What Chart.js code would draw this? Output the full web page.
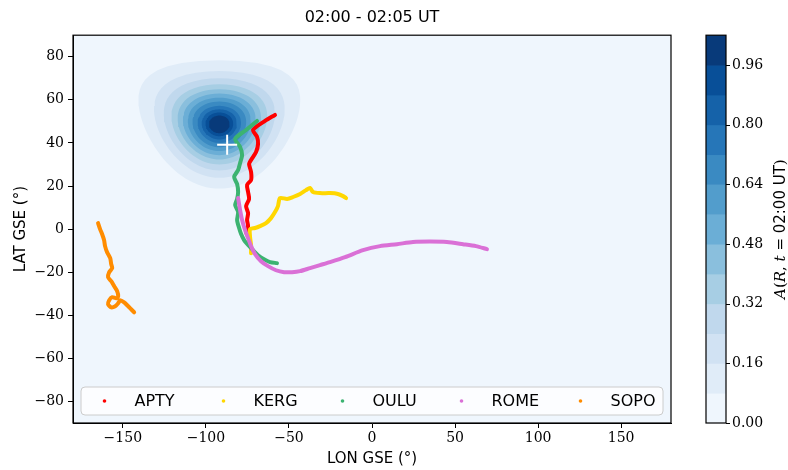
<!DOCTYPE html>
<html lang="en">
<head>
<meta charset="UTF-8">
<title>02:00 - 02:05 UT</title>
<script src="https://cdn.jsdelivr.net/npm/chart.js@4/dist/chart.umd.min.js"></script>
<style>
  html, body { margin: 0; padding: 0; background: #fff; }
</style>
</head>
<body>
<canvas id="chart-canvas" width="788" height="470"></canvas>
<script>
// station tracks (lon / lat GSE, degrees)
const stations = ['APTY', 'KERG', 'OULU', 'ROME', 'SOPO'];

const aptyLon = [-58.4, -64.4, -71.6, -69.2, -68.6, -69.8, -72.8, -74.0, -72.8, -72.8, -75.2, -74.6, -74.0, -75.8, -74.6, -75.2, -74.6, -75.8, -74.0, -73.4];
const aptyLat = [53.0, 50.2, 46.0, 42.8, 39.5, 35.8, 32.1, 30.2, 26.5, 22.8, 20.5, 17.2, 14.0, 10.7, 7.4, 4.2, 1.4, -1.4, -4.2, -7.9];

const kergLon = [-72.8, -72.8, -73.4, -73.4, -70.4, -67.4, -63.8, -60.8, -58.4, -56.6, -55.4, -51.1, -47.5, -43.3, -39.7, -37.3, -35.5, -31.3, -25.3, -20.5, -17.4, -15.6];
const kergLat = [-11.2, -7.4, -3.7, 0.0, 0.5, 1.4, 2.8, 5.1, 7.9, 10.7, 14.4, 14.0, 14.9, 16.3, 18.1, 19.1, 17.2, 16.7, 16.7, 16.3, 15.3, 14.4];

const ouluLon = [-69.2, -75.8, -82.4, -79.4, -78.2, -79.4, -80.6, -83.0, -81.2, -80.6, -81.2, -82.4, -80.6, -81.2, -80.0, -78.8, -77.0, -74.6, -71.6, -68.6, -65.0, -61.4, -57.2];
const ouluLat = [50.2, 46.0, 41.9, 38.1, 34.4, 30.7, 27.4, 24.2, 20.9, 17.2, 14.0, 11.2, 7.9, 4.2, 0.5, -2.3, -5.1, -7.4, -9.8, -12.1, -14.0, -15.3, -15.8];

const romeLon = [-80.6, -79.4, -78.2, -76.4, -74.6, -72.8, -70.4, -66.8, -62.6, -57.8, -52.9, -48.1, -43.3, -37.3, -31.3, -25.3, -16.2, -5.4, 4.8, 15.0, 24.7, 34.9, 45.1, 54.8, 62.6, 69.2];
const romeLat = [14.4, 8.8, 4.2, -0.5, -4.2, -7.9, -11.6, -14.9, -17.2, -19.1, -20.0, -20.0, -19.5, -18.1, -16.7, -15.3, -13.0, -9.8, -7.9, -7.0, -6.0, -5.8, -6.0, -7.0, -7.9, -9.3];

const sopoLon = [-164.9, -163.7, -162.5, -161.3, -160.7, -159.5, -157.6, -157.0, -156.4, -158.2, -158.9, -157.0, -155.2, -153.4, -152.8, -154.0, -156.4, -158.2, -158.9, -157.0, -154.6, -152.8, -151.6, -149.2, -146.8, -145.0, -143.2];
const sopoLat = [2.8, 0.0, -2.3, -5.1, -7.9, -10.7, -13.5, -16.3, -18.1, -20.0, -22.3, -24.2, -26.5, -28.8, -31.2, -32.1, -31.6, -33.0, -34.9, -36.3, -35.8, -34.4, -33.0, -34.0, -35.8, -37.2, -38.6];

// anisotropy map A(R, t): peak direction and angular radius (deg) of each contour level
const peak = [-91.9, 48.6];
const markerPos = [-87.2, 39.1];
const levels = [0, 0.08, 0.16, 0.24, 0.32, 0.40, 0.48, 0.56, 0.64, 0.72, 0.80, 0.88, 0.96, 1.04];
const levelRadius = [29.8, 24.8, 21.4, 18.6, 16.3, 14.3, 12.4, 10.6, 8.6, 7.0, 5.5, 4.1];

const xTicks = [-150, -100, -50, 0, 50, 100, 150];
const yTicks = [-80, -60, -40, -20, 0, 20, 40, 60, 80];
const cbTicks = [0, 0.16, 0.32, 0.48, 0.64, 0.80, 0.96];

const bandColors = ['#eff6fd', '#e0ecf8', '#d1e2f3', '#c0d8ed', '#a7cee4', '#8abfdd', '#6baed6', '#529dcc', '#3a8ac2', '#2676b8', '#1562a9', '#084f98', '#083a7a'];
const trackColors = ['#ff0000', '#ffd700', '#3cb371', '#da70d6', '#ff8c00'];

const tracks = [[aptyLon, aptyLat], [kergLon, kergLat], [ouluLon, ouluLat], [romeLon, romeLat], [sopoLon, sopoLat]];
const toPoints = (lon, lat) => lon.map((x, i) => ({ x: x, y: lat[i] }));
const fmt = v => (v < 0 ? '\u2212' + Math.abs(v) : String(v));

// contour line = small circle on the sky of angular radius r around the peak
const rad = Math.PI / 180;
function skyCircle(r) {
  const lam0 = peak[0] * rad, phi0 = peak[1] * rad, d = r * rad;
  const pts = [];
  for (let b = 0; b <= 360; b += 5) {
    const th = b * rad;
    const phi = Math.asin(Math.sin(phi0) * Math.cos(d) + Math.cos(phi0) * Math.sin(d) * Math.cos(th));
    const lam = lam0 + Math.atan2(Math.sin(th) * Math.sin(d) * Math.cos(phi0),
                                  Math.cos(d) - Math.sin(phi0) * Math.sin(phi));
    pts.push({ x: lam / rad, y: phi / rad });
  }
  return pts;
}

const datasets = [];
datasets.push({
  label: 'max', data: [{ x: markerPos[0], y: markerPos[1] }],
  pointStyle: 'cross', pointRadius: 10, borderColor: '#ffffff', borderWidth: 2, order: 0
});
stations.forEach((name, i) => {
  datasets.push({
    label: name, data: toPoints(tracks[i][0], tracks[i][1]),
    showLine: true, fill: false, borderColor: trackColors[i], backgroundColor: trackColors[i],
    borderWidth: 4, pointRadius: 0, tension: 0.25,
    borderCapStyle: 'round', borderJoinStyle: 'round', order: 5 - i
  });
});
levelRadius.forEach((r, k) => {
  datasets.push({
    label: 'A > ' + levels[k + 1], data: skyCircle(r), showLine: true, fill: 'shape',
    backgroundColor: bandColors[k + 1], borderColor: bandColors[k + 1], borderWidth: 0,
    pointRadius: 0, tension: 0, order: 100 - k
  });
});

const plotBg = {
  id: 'plotBg',
  beforeDraw(chart) {
    const { ctx, chartArea: a } = chart;
    ctx.save();
    ctx.fillStyle = '#ffffff';
    ctx.fillRect(0, 0, chart.width, chart.height);
    ctx.fillStyle = bandColors[0];
    ctx.fillRect(a.left, a.top, a.width, a.height);
    ctx.restore();
  },
  afterDatasetsDraw(chart) {
    const { ctx, chartArea: a } = chart;
    ctx.save();
    ctx.strokeStyle = '#000';
    ctx.lineWidth = 1.2;
    ctx.strokeRect(a.left, a.top, a.width, a.height);
    ctx.restore();
  }
};

const colorBar = {
  id: 'colorBar',
  afterDraw(chart) {
    const { ctx } = chart;
    const s = chart.scales.cb;
    const x0 = s.left + 35, w = 20;
    ctx.save();
    for (let i = 0; i < bandColors.length; i++) {
      const yTop = s.getPixelForValue(levels[i + 1]);
      const yBot = s.getPixelForValue(levels[i]);
      ctx.fillStyle = bandColors[i];
      ctx.fillRect(x0, yTop, w, yBot - yTop + 0.5);
    }
    ctx.strokeStyle = '#000';
    ctx.lineWidth = 1.2;
    ctx.strokeRect(x0, s.top, w, s.bottom - s.top);
    ctx.beginPath();
    cbTicks.forEach(v => {
      const y = Math.round(s.getPixelForValue(v)) + 0.5;
      ctx.moveTo(x0 + w, y);
      ctx.lineTo(x0 + w + 4, y);
    });
    ctx.lineWidth = 1;
    ctx.stroke();

    // rotated label A(R, t = 02:00 UT)
    const parts = [
      ['A', 'italic 15px "DejaVu Serif"'], ['(', '15px "DejaVu Serif"'],
      ['R', 'italic 15px "DejaVu Serif"'], [', ', '15px "DejaVu Serif"'],
      ['t', 'italic 15px "DejaVu Serif"'], [' = ', '15px "DejaVu Serif"'],
      ['02:00 UT', '15px "DejaVu Sans"'], [')', '15px "DejaVu Serif"']
    ];
    let total = 0;
    parts.forEach(p => { ctx.font = p[1]; total += ctx.measureText(p[0]).width; });
    ctx.translate(781, (s.top + s.bottom) / 2);
    ctx.rotate(-Math.PI / 2);
    ctx.fillStyle = '#000';
    ctx.textBaseline = 'middle';
    let x = -total / 2;
    parts.forEach(p => {
      ctx.font = p[1];
      ctx.fillText(p[0], x, 0);
      x += ctx.measureText(p[0]).width;
    });
    ctx.restore();
  }
};

const legendBox = {
  id: 'legendBox',
  afterDraw(chart) {
    const { ctx, chartArea: a } = chart;
    const x0 = a.left + 8, y0 = a.bottom - 36, w = a.width - 16, h = 28;
    ctx.save();
    ctx.beginPath();
    ctx.roundRect(x0, y0, w, h, 4);
    ctx.fillStyle = 'rgba(255,255,255,0.8)';
    ctx.fill();
    ctx.strokeStyle = '#cccccc';
    ctx.lineWidth = 1;
    ctx.stroke();
    ctx.font = '16px "DejaVu Sans"';
    ctx.textBaseline = 'middle';
    const cy = y0 + h / 2;
    stations.forEach((name, i) => {
      const dx = x0 + 23.5 + i * 119;
      ctx.fillStyle = trackColors[i];
      ctx.beginPath();
      ctx.arc(dx, cy, 1.8, 0, Math.PI * 2);
      ctx.fill();
      ctx.fillStyle = '#000';
      ctx.fillText(name, dx + 30, cy + 1);
    });
    ctx.restore();
  }
};

const tickFont = { family: 'DejaVu Serif', size: 14 };
const labelFont = { family: 'DejaVu Sans', size: 15 };

// vertical axes: no extra top/bottom padding from tick label sizes
const noVPad = s => { s.paddingTop = 0; s.paddingBottom = 0; };

new Chart(document.getElementById('chart-canvas').getContext('2d'), {
  type: 'scatter',
  data: { datasets: datasets },
  options: {
    responsive: false,
    animation: false,
    events: [],
    layout: { padding: 0 },
    plugins: {
      legend: { display: false },
      tooltip: { enabled: false },
      title: {
        display: true, text: '02:00 - 02:05 UT', fullSize: false, color: '#000',
        font: { family: 'DejaVu Sans', size: 16, weight: 'normal' },
        padding: { top: 8, bottom: 8 }
      }
    },
    scales: {
      x: {
        type: 'linear', min: -180, max: 180,
        afterBuildTicks: s => { s.ticks = xTicks.map(v => ({ value: v })); },
        afterFit: s => { s.height = 47; s.paddingLeft = 0; s.paddingRight = 0; },
        grid: { display: true, drawOnChartArea: false, drawTicks: true, tickLength: 5, color: '#000' },
        border: { display: true, color: '#000', width: 1 },
        ticks: { font: tickFont, color: '#000', padding: 2, maxRotation: 0, autoSkip: false, callback: fmt },
        title: { display: true, text: 'LON GSE (°)', font: labelFont, color: '#000', padding: { top: 0, bottom: 2 } }
      },
      y: {
        type: 'linear', min: -90, max: 90,
        afterBuildTicks: s => { s.ticks = yTicks.map(v => ({ value: v })); },
        afterFit: s => { s.width = 73; noVPad(s); },
        grid: { display: true, drawOnChartArea: false, drawTicks: true, tickLength: 5, color: '#000' },
        border: { display: true, color: '#000', width: 1 },
        ticks: { font: tickFont, color: '#000', padding: 4, autoSkip: false, callback: fmt },
        title: { display: true, text: 'LAT GSE (°)', font: labelFont, color: '#000', padding: { top: 12, bottom: 0 } }
      },
      cb: {
        type: 'linear', position: 'right', min: 0, max: 1.04,
        afterBuildTicks: s => { s.ticks = cbTicks.map(v => ({ value: v })); },
        afterFit: s => { s.width = 117; noVPad(s); },
        grid: { display: false, drawTicks: false },
        border: { display: false },
        ticks: { font: tickFont, color: '#000', padding: 61, autoSkip: false, callback: v => v.toFixed(2) }
      }
    }
  },
  plugins: [plotBg, colorBar, legendBox]
});
</script>
</body>
</html>
